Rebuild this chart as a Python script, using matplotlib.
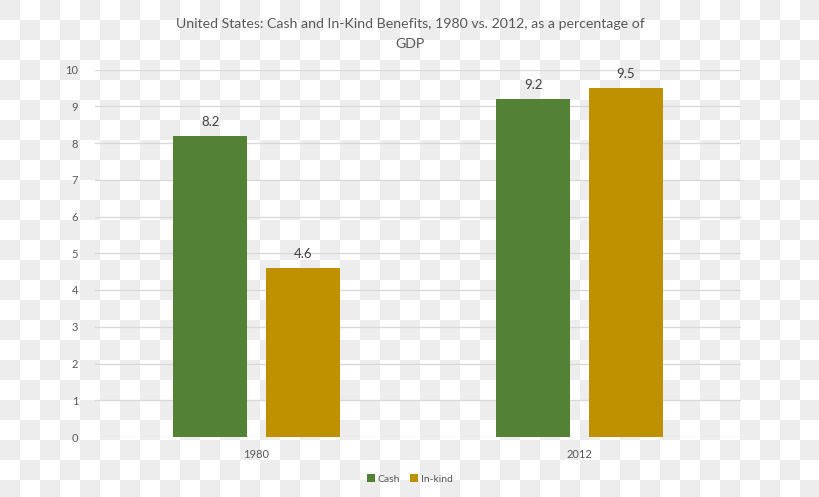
import numpy as np
import matplotlib.pyplot as plt

# values (% of GDP)
years = ['1980', '2012']
cash = [8.2, 9.2]
in_kind = [4.6, 9.5]

green = '#538135'
gold = '#bf9000'
txt = '#595959'

plt.rcParams['font.family'] = ['Lato', 'DejaVu Sans']

fig = plt.figure(figsize=(8.2, 4.97), dpi=100)

# checkerboard background (transparent-png look)
h, w = 497, 820
yy, xx = np.mgrid[0:h, 0:w]
board = np.where(((yy // 20) + (xx // 20)) % 2 == 0, 0.93, 1.0)
fig.figimage(np.dstack([board] * 3), xo=0, yo=0, origin='upper', zorder=-5)

ax = fig.add_axes([95 / 820, 1 - 437 / 497, (741 - 95) / 820, (437 - 69.5) / 497])
ax.set_zorder(2)
ax.set_facecolor('none')

x = np.arange(len(years))
bw = 0.23
off = 0.143
b1 = ax.bar(x - off, cash, bw, color=green, label='Cash', zorder=3)
b2 = ax.bar(x + off, in_kind, bw, color=gold, label='In-kind', zorder=3)

for bars in (b1, b2):
    for b in bars:
        ax.text(b.get_x() + b.get_width() / 2, b.get_height() + 0.22, f'{b.get_height():.1f}',
                ha='center', va='bottom', fontsize=9.5, color='#404040')

ax.set_xlim(-0.5, 1.5)
ax.set_ylim(0, 10)
ax.set_yticks(range(0, 11))
ax.set_xticks(x)
ax.set_xticklabels(years)
ax.grid(axis='y', color='#d9d9d9', linewidth=1, zorder=1)
ax.tick_params(axis='both', length=0, labelsize=8, labelcolor=txt)
ax.tick_params(axis='y', pad=12)
ax.tick_params(axis='x', pad=9)
for s in ax.spines.values():
    s.set_visible(False)

fig.suptitle('United States: Cash and In-Kind Benefits, 1980 vs. 2012, as a percentage of\nGDP',
             y=0.963, fontsize=10.2, color=txt, linespacing=1.75)

leg = fig.legend(loc='lower center', bbox_to_anchor=(0.5, 0.008), ncol=2, frameon=False,
                 fontsize=7.5, labelcolor=txt, handlelength=0.7, handleheight=0.7,
                 handletextpad=0.3, columnspacing=1.0)
leg.set_zorder(3)

fig.savefig('out.png', dpi=100)
